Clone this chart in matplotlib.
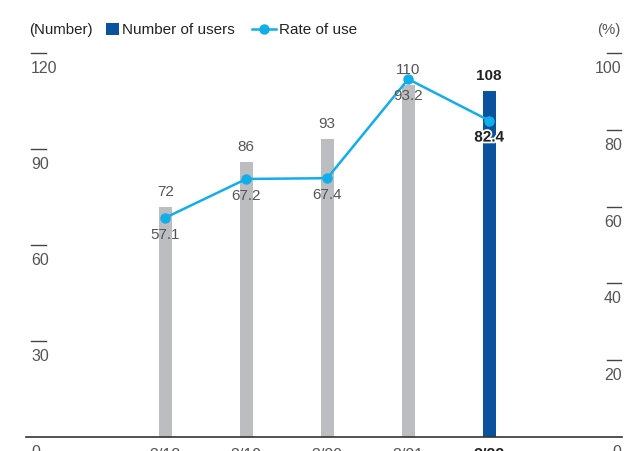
import matplotlib
matplotlib.use('Agg')
import matplotlib.pyplot as plt
from matplotlib.lines import Line2D
from matplotlib.patches import Patch
import matplotlib.patheffects as pe

# ---- data ----
years = ['3/18', '3/19', '3/20', '3/21', '3/22']
users = [72, 86, 93, 110, 108]
rate = [57.1, 67.2, 67.4, 93.2, 82.4]
left_ticks = [0, 30, 60, 90, 120]
right_ticks = [0, 20, 40, 60, 80, 100]

CLR_GRAY = '#bcbdc0'
CLR_BLUE = '#0a519e'
CLR_LINE = '#12aeea'
CLR_TXT = '#555555'
CLR_BOLD = '#222222'

plt.rcParams['font.family'] = ['Liberation Sans', 'DejaVu Sans']

fig = plt.figure(figsize=(6.43, 4.51), dpi=100)
ax = fig.add_axes([26 / 643, 14 / 451, 596 / 643, 384 / 451])
ax2 = ax.twinx()

x = list(range(len(years)))
last = len(years) - 1
colors = [CLR_GRAY] * last + [CLR_BLUE]
ax.bar(x, users, width=0.16, color=colors, zorder=2)
ax.set_xlim(-1.72, 5.64)
ax.set_ylim(0, 120)
ax2.set_ylim(0, 100)

ax2.plot(x, rate, '-o', color=CLR_LINE, linewidth=1.8, markersize=6.5, zorder=3)

for a in (ax, ax2):
    for s in a.spines.values():
        s.set_visible(False)
    a.set_xticks([])
    a.set_yticks([])
ax.spines['bottom'].set_visible(True)
ax.spines['bottom'].set_color('#333333')
ax.spines['bottom'].set_linewidth(1.2)
ax.set_zorder(ax2.get_zorder() - 1)
ax.patch.set_visible(False)

# y-axis labels: short dash with the number underneath
for v in left_ticks:
    if v > 0:
        ax.plot([0.0084, 0.0336], [v, v], color='#444444', linewidth=1,
                transform=ax.get_yaxis_transform(), clip_on=False)
    ax.annotate(str(v), (0.0084, v), xycoords=('axes fraction', 'data'),
                xytext=(0, -8), textcoords='offset pixels',
                ha='left', va='top', fontsize=11.5, color=CLR_TXT)
for v in right_ticks:
    if v > 0:
        ax2.plot([0.975, 0.998], [v, v], color='#444444', linewidth=1,
                 transform=ax2.get_yaxis_transform(), clip_on=False)
    ax2.annotate(str(v), (0.9995, v), xycoords=('axes fraction', 'data'),
                 xytext=(0, -8), textcoords='offset pixels',
                 ha='right', va='top', fontsize=11.5, color=CLR_TXT)

# x labels (sit below the baseline)
for i, lab in enumerate(years):
    bold = i == last
    ax.annotate(lab, (i, 0), xytext=(0, -11), textcoords='offset pixels',
                ha='center', va='top', fontsize=11.5,
                color=CLR_BOLD if bold else CLR_TXT,
                fontweight='bold' if bold else 'normal', annotation_clip=False)

# value labels
for i, v in enumerate(users):
    bold = i == last
    ax.annotate(str(v), (i, v), xytext=(0, 8), textcoords='offset pixels',
                ha='center', va='bottom', fontsize=11,
                color=CLR_BOLD if bold else CLR_TXT,
                fontweight='bold' if bold else 'normal', annotation_clip=False)
for i, v in enumerate(rate):
    bold = i == last
    t = ax2.annotate(f'{v:.1f}', (i, v), xytext=(0, -10), textcoords='offset pixels',
                     ha='center', va='top', fontsize=11,
                     color=CLR_BOLD if bold else CLR_TXT,
                     fontweight='bold' if bold else 'normal', zorder=4)
    if bold:
        t.set_path_effects([pe.withStroke(linewidth=2.5, foreground='white')])

# header: units and legend
fig.text(29 / 643, 1 - 30 / 451, '(Number)', ha='left', va='center',
         fontsize=10.8, color=CLR_BOLD)
fig.text(621 / 643, 1 - 30 / 451, '(%)', ha='right', va='center',
         fontsize=10.8, color=CLR_TXT)
fig.legend([Patch(facecolor=CLR_BLUE, edgecolor='none')], ['Number of users'],
           loc='center left', bbox_to_anchor=(106 / 643, 1 - 30 / 451),
           frameon=False, fontsize=11, handlelength=0.85, handleheight=0.85,
           handletextpad=0.2, borderpad=0, borderaxespad=0,
           labelcolor=CLR_BOLD)
fig.legend([Line2D([0], [0], color=CLR_LINE, marker='o', linewidth=1.8, markersize=6.5)],
           ['Rate of use'], loc='center left', bbox_to_anchor=(252 / 643, 1 - 30 / 451),
           frameon=False, fontsize=11, handlelength=1.55, handletextpad=0.2,
           borderpad=0, borderaxespad=0, labelcolor=CLR_BOLD)

fig.savefig('out.png', dpi=100)
